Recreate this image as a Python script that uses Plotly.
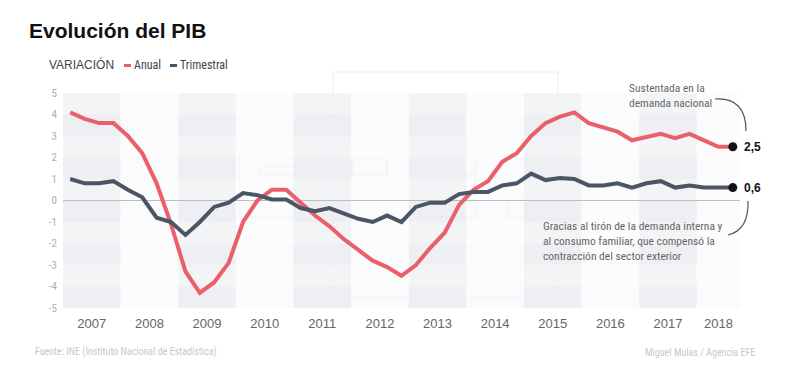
import plotly.graph_objects as go

# ---- data ----
years = [2007, 2008, 2009, 2010, 2011, 2012, 2013, 2014, 2015, 2016, 2017, 2018]
quarters_per_year = [4, 4, 4, 4, 4, 4, 4, 4, 4, 4, 4, 3]
anual = [4.1, 3.8, 3.6, 3.6, 3.0, 2.2, 0.8, -1.1,
         -3.3, -4.3, -3.8, -2.9, -1.0, 0.0, 0.5, 0.5,
         -0.1, -0.7, -1.2, -1.8, -2.3, -2.8, -3.1, -3.5,
         -3.0, -2.2, -1.5, -0.2, 0.5, 0.9, 1.8, 2.2,
         3.0, 3.6, 3.9, 4.1, 3.6, 3.4, 3.2, 2.8,
         2.95, 3.1, 2.9, 3.1, 2.8, 2.5, 2.5]
trimestral = [1.0, 0.8, 0.8, 0.9, 0.5, 0.15, -0.8, -1.0,
              -1.6, -1.0, -0.3, -0.1, 0.35, 0.25, 0.05, 0.05,
              -0.35, -0.5, -0.35, -0.6, -0.85, -1.0, -0.7, -1.0,
              -0.3, -0.1, -0.1, 0.3, 0.4, 0.4, 0.7, 0.8,
              1.25, 0.95, 1.05, 1.0, 0.7, 0.7, 0.8, 0.6,
              0.8, 0.9, 0.6, 0.7, 0.6, 0.6, 0.6]
y_ticks = [5, 4, 3, 2, 1, 0, -1, -2, -3, -4, -5]

RED = "#ea5f69"
GREY = "#4a5565"
FONT = "Liberation Sans Narrow, Roboto Condensed, Liberation Sans, Arial"

x = list(range(len(anual)))

starts = []
acc = 0
for n in quarters_per_year:
    starts.append(acc)
    acc += n
centers = [s + (n - 1) / 2 for s, n in zip(starts, quarters_per_year)]

# page has an 8px body margin; lay out in reference pixels then shift
OFF = 8
W, H = 800 - OFF, 370 - OFF
PL, PR, PT, PB = 63, 740, 93, 308          # plot area in reference pixels
L, T = PL - OFF, PT - OFF
R, B = W - (PR - OFF), H - (PB - OFF)
pw, ph = PR - PL, PB - PT


def px(xp):
    return (xp - PL) / pw


def py(yp):
    return (PB - yp) / ph


fig = go.Figure()

shapes = []
for i, (s, n) in enumerate(zip(starts, quarters_per_year)):
    col = "rgba(233,235,239,0.8)" if i % 2 == 0 else "rgba(247,248,250,0.6)"
    shapes.append(dict(type="rect", xref="x", yref="y", x0=s - 0.5, x1=s + n - 0.5,
                       y0=-5, y1=5, fillcolor=col, line_width=0, layer="below"))
for k in range(-5, 5):
    if k % 2 == 0:
        shapes.append(dict(type="rect", xref="x", yref="y", x0=-0.5, x1=len(anual) - 0.5,
                           y0=k, y1=k + 1, fillcolor="rgba(255,255,255,0.35)",
                           line_width=0, layer="below"))

# faint EFE watermark outlines
wm = "rgba(215,215,218,0.45)"
wm_rects = [(333, 72, 558, 298), (420, 150, 475, 217), (440, 175, 475, 193),
            (508, 193, 527, 217), (240, 150, 295, 217), (260, 167, 295, 175),
            (352, 150, 387, 193), (352, 160, 387, 175)]
for (a, b, c, d) in wm_rects:
    shapes.append(dict(type="rect", xref="paper", yref="paper", x0=px(a), x1=px(c),
                       y0=py(d), y1=py(b), line=dict(color=wm, width=1),
                       fillcolor="rgba(0,0,0,0)", layer="below"))

shapes.append(dict(type="line", xref="x", yref="y", x0=-0.5, x1=len(anual) - 0.5,
                   y0=0, y1=0, line=dict(color="#bdbdbd", width=1.2), layer="below"))
shapes.append(dict(type="rect", xref="paper", yref="paper", x0=px(530), x1=px(730),
                   y0=py(266), y1=py(213), fillcolor="white", line_width=0, layer="below"))
shapes.append(dict(type="path", xref="paper", yref="paper",
                   path=f"M {px(715)},{py(99)} Q {px(746)},{py(97)} {px(746)},{py(131)}",
                   line=dict(color="#555", width=1.2)))
shapes.append(dict(type="path", xref="paper", yref="paper",
                   path=f"M {px(728)},{py(235)} Q {px(749)},{py(230)} {px(748)},{py(201)}",
                   line=dict(color="#555", width=1.2)))
# legend swatches
for (x0, c) in [(124, RED), (170, GREY)]:
    shapes.append(dict(type="rect", xref="paper", yref="paper", x0=px(x0), x1=px(x0 + 7),
                       y0=py(67), y1=py(64), fillcolor=c, line_width=0))

fig.add_trace(go.Scatter(x=x, y=anual, mode="lines", line=dict(color=RED, width=4),
                         name="Anual", hoverinfo="skip"))
fig.add_trace(go.Scatter(x=x, y=trimestral, mode="lines", line=dict(color=GREY, width=4),
                         name="Trimestral", hoverinfo="skip"))
fig.add_trace(go.Scatter(x=[x[-1], x[-1]], y=[anual[-1], trimestral[-1]], mode="markers",
                         marker=dict(color="#111", size=9), hoverinfo="skip"))


def fmt(v):
    return str(v).replace(".", ",")


annotations = [
    dict(text="<b>Evolución del PIB</b>", xref="paper", yref="paper", x=px(27), y=py(31),
         xanchor="left", yanchor="middle", showarrow=False,
         font=dict(family="Liberation Sans, Arial", size=21, color="#111")),
    dict(text="VARIACIÓN", xref="paper", yref="paper", x=px(47), y=py(65),
         xanchor="left", yanchor="middle", showarrow=False,
         font=dict(family="Liberation Sans, Arial", size=12, color="#444")),
    dict(text="Anual", xref="paper", yref="paper",
         x=px(132), y=py(65), xanchor="left", yanchor="middle", showarrow=False,
         font=dict(family=FONT, size=12, color="#444")),
    dict(text="Trimestral", xref="paper", yref="paper",
         x=px(178), y=py(65), xanchor="left", yanchor="middle", showarrow=False,
         font=dict(family=FONT, size=12, color="#444")),
    dict(text="Sustentada en la<br>demanda nacional", xref="paper", yref="paper",
         x=px(627), y=py(96), xanchor="left", yanchor="middle", align="left", showarrow=False,
         font=dict(family=FONT, size=11.5, color="#666")),
    dict(text="Gracias al tirón de la demanda interna y<br>al consumo familiar, que compensó la<br>contracción del sector exterior",
         xref="paper", yref="paper", x=px(541), y=py(241), xanchor="left", yanchor="middle",
         align="left", showarrow=False, font=dict(family=FONT, size=11.5, color="#666")),
    dict(text=f"<b>{fmt(anual[-1])}</b>", xref="x", yref="y", x=x[-1], y=anual[-1],
         xshift=9, xanchor="left", yanchor="middle", showarrow=False,
         font=dict(family="Liberation Sans, Arial", size=12, color="#111")),
    dict(text=f"<b>{fmt(trimestral[-1])}</b>", xref="x", yref="y", x=x[-1], y=trimestral[-1],
         xshift=9, xanchor="left", yanchor="middle", showarrow=False,
         font=dict(family="Liberation Sans, Arial", size=12, color="#111")),
    dict(text="Fuente: INE (Instituto Nacional de Estadística)", xref="paper", yref="paper",
         x=px(33), y=py(352), xanchor="left", yanchor="middle", showarrow=False,
         font=dict(family=FONT, size=10, color="#c8c8c8")),
    dict(text="Miguel Mulas / Agencia EFE", xref="paper", yref="paper",
         x=px(757), y=py(352), xanchor="right", yanchor="middle", showarrow=False,
         font=dict(family=FONT, size=10, color="#c8c8c8")),
]

fig.update_layout(
    width=W, height=H, autosize=False,
    margin=dict(l=L, r=R, t=T, b=B),
    paper_bgcolor="white", plot_bgcolor="white",
    showlegend=False,
    shapes=shapes, annotations=annotations,
    xaxis=dict(range=[-0.5, len(anual) - 0.5], tickvals=centers, ticktext=[str(y) for y in years],
               showgrid=False, zeroline=False, showline=False, ticks="",
               ticklabelstandoff=6,
               tickfont=dict(family="Liberation Sans, Arial", size=13, color="#666"),
               fixedrange=True),
    yaxis=dict(range=[-5, 5], tickvals=y_ticks, ticktext=[str(v) for v in y_ticks],
               showgrid=False, zeroline=False, showline=False, ticks="",
               ticklabelstandoff=5,
               tickfont=dict(family=FONT, size=11, color="#b0b0b0"),
               fixedrange=True),
)

fig.write_html("out.html")
